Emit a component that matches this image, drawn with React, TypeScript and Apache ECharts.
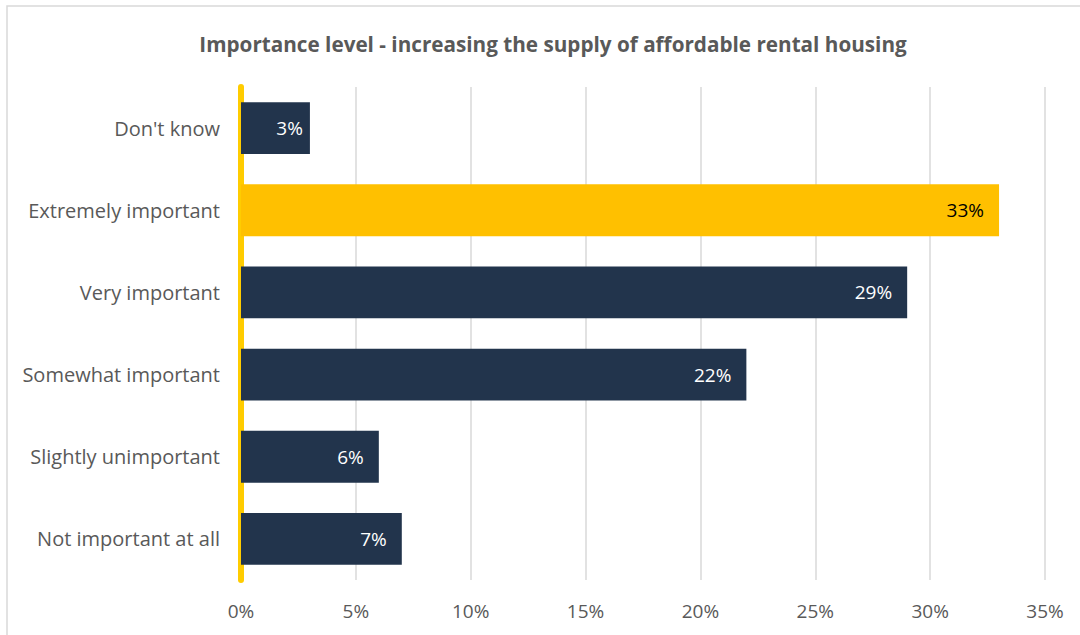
import React, { useEffect, useRef } from "react";
import * as echarts from "echarts";

const categories = ["Don't know", "Extremely important", "Very important", "Somewhat important", "Slightly unimportant", "Not important at all"];
const values = [3, 33, 29, 22, 6, 7];
const highlight = "Extremely important";
const titleText = "Importance level - increasing the supply of affordable rental housing";

export default function App() {
  const ref = useRef<HTMLDivElement>(null);
  useEffect(() => {
    const chart = echarts.init(ref.current!, null, { renderer: "svg" });
    const font = "'Open Sans', sans-serif";
    chart.setOption({
      animation: false,
      backgroundColor: "#ffffff",
      title: {
        text: titleText,
        left: 548,
        textAlign: "center",
        top: 28,
        textStyle: { fontFamily: font, fontSize: 20.7, fontWeight: "bold", color: "#595959" },
      },
      graphic: [
        {
          type: "rect",
          shape: { x: 7, y: 6, width: 1090, height: 650 },
          style: { fill: "none", stroke: "#d9d9d9", lineWidth: 1.5 },
          silent: true,
        },
      ],
      grid: { left: 241, right: 35, top: 87, bottom: 55, containLabel: false },
      xAxis: {
        type: "value",
        min: 0,
        max: 35,
        interval: 5,
        axisLabel: {
          formatter: (v: number) => v + "%",
          fontFamily: font,
          fontSize: 19,
          color: "#595959",
          margin: 21,
        },
        splitLine: { lineStyle: { color: "#d9d9d9", width: 1.5 } },
        axisLine: { show: false },
        axisTick: { show: false },
      },
      yAxis: {
        type: "category",
        data: categories,
        inverse: true,
        axisLine: { show: true, lineStyle: { color: "#FFCC00", width: 6 } },
        axisTick: { show: false },
        axisLabel: { fontFamily: font, fontSize: 20, color: "#595959", margin: 21 },
      },
      series: [
        {
          type: "bar",
          barCategoryGap: "37%",
          data: values.map((v, i) => ({
            value: v,
            itemStyle: { color: categories[i] === highlight ? "#FFC000" : "#22344C" },
            label: {
              color: categories[i] === highlight ? "#000000" : "#ffffff",
              distance: v < 5 ? 7 : 15,
            },
          })),
          label: {
            show: true,
            position: "insideRight",
            distance: 15,
            formatter: (p: any) => p.value + "%",
            fontFamily: font,
            fontSize: 19,
          },
        },
      ],
    });
    return () => chart.dispose();
  }, []);
  return <div ref={ref} style={{ position: "absolute", left: 0, top: 0, width: 1080, height: 635 }} />;
}
